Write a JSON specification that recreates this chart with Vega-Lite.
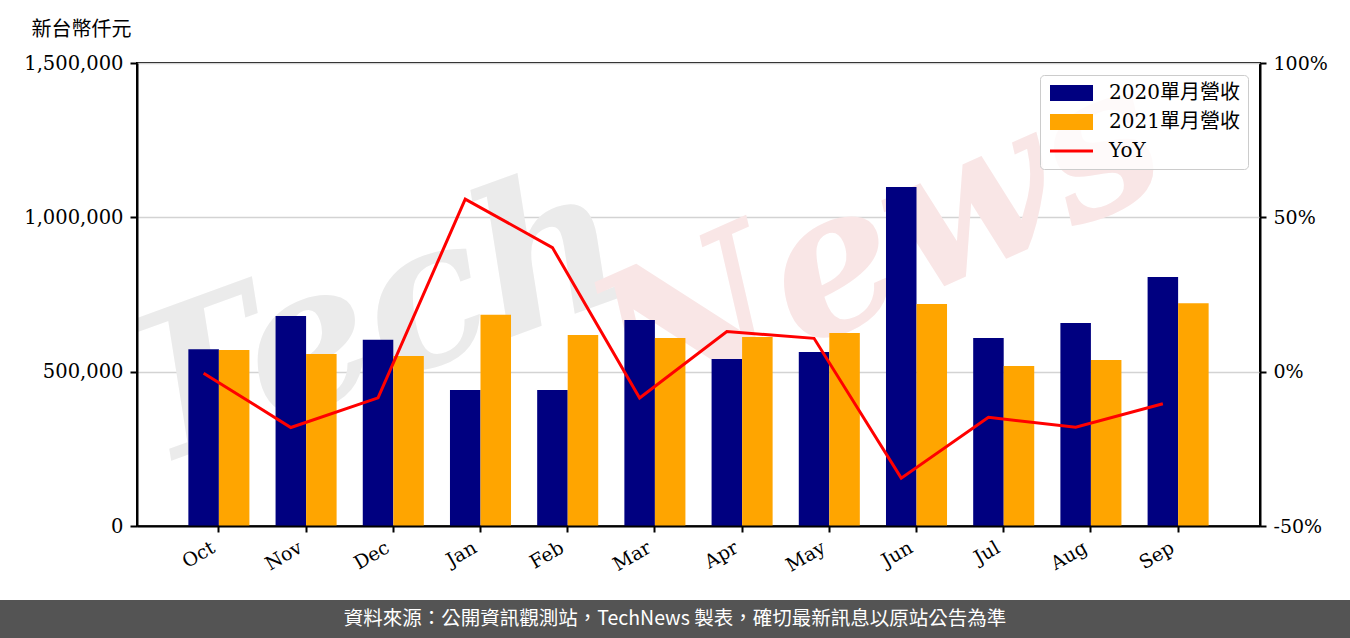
{
  "$schema": "https://vega.github.io/schema/vega-lite/v6.json",
  "background": "white",
  "padding": {"left": 0, "top": 18, "right": 0, "bottom": 0},
  "spacing": 537,
  "bounds": "flush",
  "resolve": {"scale": {"color": "independent"}, "legend": {"color": "independent"}},
  "config": {
    "font": "DejaVu Serif, Noto Sans CJK TC",
    "view": {"stroke": "black", "strokeWidth": 2}
  },
  "datasets": {
    "revenue": [
      {"month": "Oct", "series": "2020單月營收", "revenue": 573000},
      {"month": "Oct", "series": "2021單月營收", "revenue": 570000},
      {"month": "Nov", "series": "2020單月營收", "revenue": 680000},
      {"month": "Nov", "series": "2021單月營收", "revenue": 557000},
      {"month": "Dec", "series": "2020單月營收", "revenue": 603000},
      {"month": "Dec", "series": "2021單月營收", "revenue": 551000},
      {"month": "Jan", "series": "2020單月營收", "revenue": 441000},
      {"month": "Jan", "series": "2021單月營收", "revenue": 684000},
      {"month": "Feb", "series": "2020單月營收", "revenue": 441000},
      {"month": "Feb", "series": "2021單月營收", "revenue": 619000},
      {"month": "Mar", "series": "2020單月營收", "revenue": 667000},
      {"month": "Mar", "series": "2021單月營收", "revenue": 609000},
      {"month": "Apr", "series": "2020單月營收", "revenue": 541000},
      {"month": "Apr", "series": "2021單月營收", "revenue": 612000},
      {"month": "May", "series": "2020單月營收", "revenue": 564000},
      {"month": "May", "series": "2021單月營收", "revenue": 625000},
      {"month": "Jun", "series": "2020單月營收", "revenue": 1098000},
      {"month": "Jun", "series": "2021單月營收", "revenue": 719000},
      {"month": "Jul", "series": "2020單月營收", "revenue": 609000},
      {"month": "Jul", "series": "2021單月營收", "revenue": 518000},
      {"month": "Aug", "series": "2020單月營收", "revenue": 658000},
      {"month": "Aug", "series": "2021單月營收", "revenue": 538000},
      {"month": "Sep", "series": "2020單月營收", "revenue": 807000},
      {"month": "Sep", "series": "2021單月營收", "revenue": 722000}
    ],
    "yoy": [
      {"month": "Oct", "yoy": -0.5},
      {"month": "Nov", "yoy": -18.1},
      {"month": "Dec", "yoy": -8.5},
      {"month": "Jan", "yoy": 55.9},
      {"month": "Feb", "yoy": 40.2},
      {"month": "Mar", "yoy": -8.5},
      {"month": "Apr", "yoy": 13.0},
      {"month": "May", "yoy": 10.8},
      {"month": "Jun", "yoy": -34.5},
      {"month": "Jul", "yoy": -14.8},
      {"month": "Aug", "yoy": -18.0},
      {"month": "Sep", "yoy": -10.4}
    ]
  },
  "vconcat": [
    {
      "hconcat": [
        {
          "width": 137,
          "height": 463,
          "view": {"stroke": null},
          "data": {"values": []},
          "mark": {"type": "point", "opacity": 0}
        },
        {
          "width": 1123,
          "height": 463,
          "layer": [
            {
              "data": {"values": [{"word": "Tech", "month": "Dec", "pos": 680000}]},
              "mark": {"type": "text", "clip": true, "fontSize": 200, "font": "DejaVu Serif", "fontStyle": "italic", "fontWeight": "bold", "angle": -20, "color": "#ebebeb", "dx": -20},
              "encoding": {
                "x": {"field": "month", "type": "nominal", "sort": ["Oct", "Nov", "Dec", "Jan", "Feb", "Mar", "Apr", "May", "Jun", "Jul", "Aug", "Sep"]},
                "y": {"field": "pos", "type": "quantitative", "scale": {"domain": [0, 1500000]}, "axis": null},
                "text": {"field": "word"}
              }
            },
            {
              "data": {"values": [{"word": "News", "month": "Jun", "pos": 950000}]},
              "mark": {"type": "text", "clip": true, "fontSize": 200, "font": "DejaVu Serif", "fontStyle": "italic", "fontWeight": "bold", "angle": -24, "color": "#f9e6e6", "dx": -40},
              "encoding": {
                "x": {"field": "month", "type": "nominal", "sort": ["Oct", "Nov", "Dec", "Jan", "Feb", "Mar", "Apr", "May", "Jun", "Jul", "Aug", "Sep"]},
                "y": {"field": "pos", "type": "quantitative", "scale": {"domain": [0, 1500000]}, "axis": null},
                "text": {"field": "word"}
              }
            },
            {
              "data": {"name": "revenue"},
              "mark": {"type": "bar"},
              "encoding": {
                "x": {
                  "field": "month", "type": "nominal",
                  "sort": ["Oct", "Nov", "Dec", "Jan", "Feb", "Mar", "Apr", "May", "Jun", "Jul", "Aug", "Sep"],
                  "scale": {"domain": ["Oct", "Nov", "Dec", "Jan", "Feb", "Mar", "Apr", "May", "Jun", "Jul", "Aug", "Sep"], "paddingInner": 0.3, "paddingOuter": 0.589},
                  "axis": {
                    "title": null, "labelAngle": -30, "labelAlign": "right", "labelBaseline": "top",
                    "labelFontSize": 19, "labelColor": "black", "labelPadding": 6, "labelOffset": -10,
                    "tickSize": 6, "tickWidth": 2, "tickColor": "black",
                    "domainColor": "black", "domainWidth": 2, "zindex": 1
                  }
                },
                "xOffset": {"field": "series", "type": "nominal", "sort": ["2020單月營收", "2021單月營收"]},
                "y": {
                  "field": "revenue", "type": "quantitative",
                  "scale": {"domain": [0, 1500000]},
                  "axis": {
                    "values": [0, 500000, 1000000, 1500000], "labelExpr": "format(datum.value, ',')",
                    "title": "新台幣仟元", "titleAngle": 0, "titleX": -106, "titleY": -34,
                    "titleAlign": "left", "titleBaseline": "middle", "titleFontSize": 20,
                    "titleFontWeight": "normal", "titleColor": "black", "titleFont": "Noto Sans CJK TC",
                    "labelFontSize": 19.5, "labelColor": "black", "labelPadding": 7,
                    "tickSize": 7, "tickWidth": 2, "tickColor": "black",
                    "domainColor": "black", "domainWidth": 2,
                    "grid": false, "zindex": 1
                  }
                },
                "color": {
                  "field": "series", "type": "nominal",
                  "scale": {"domain": ["2020單月營收", "2021單月營收", "YoY"], "range": ["#000080", "#ffa500", "#ff0000"]},
                  "legend": {
                    "title": null, "orient": "top-right", "offset": 12, "padding": 8,
                    "labelFontSize": 20, "labelColor": "black", "labelFont": "DejaVu Serif, Noto Sans CJK TC",
                    "symbolSize": 256, "labelOffset": 41, "rowPadding": 9,
                    "fillColor": "rgba(255,255,255,0.8)", "strokeColor": "#cccccc", "cornerRadius": 4,
                    "symbolStrokeWidth": 0,
                    "encode": {
                      "symbols": {
                        "update": {
                          "shape": {"signal": "datum.value === 'YoY' ? 'M-1,-0.19H4.375V0.19H-1Z' : 'M-1,-1H4.375V1H-1Z'"},
                          "fill": {"signal": "scale('color', datum.value)"},
                          "stroke": {"value": "transparent"},
                          "opacity": {"value": 1},
                          "fillOpacity": {"value": 1}
                        }
                      }
                    }
                  }
                }
              }
            },
            {
              "data": {"name": "yoy"},
              "mark": {"type": "line", "strokeWidth": 3},
              "encoding": {
                "x": {"field": "month", "type": "nominal", "sort": ["Oct", "Nov", "Dec", "Jan", "Feb", "Mar", "Apr", "May", "Jun", "Jul", "Aug", "Sep"], "bandPosition": 0.25},
                "y": {
                  "field": "yoy", "type": "quantitative",
                  "scale": {"domain": [-50, 100]},
                  "axis": {
                    "orient": "right", "values": [-50, 0, 50, 100], "labelExpr": "datum.value + '%'",
                    "title": null,
                    "labelFontSize": 19, "labelColor": "black", "labelPadding": 7,
                    "tickSize": 6, "tickWidth": 2, "tickColor": "black",
                    "domainColor": "black", "domainWidth": 2,
                    "grid": true, "gridColor": "#d3d3d3", "gridWidth": 1.5, "zindex": 0
                  }
                },
                "color": {"datum": "YoY"}
              }
            }
          ],
          "resolve": {"scale": {"y": "independent"}}
        }
      ],
      "spacing": 0,
      "bounds": "flush",
      "resolve": {"scale": {"color": "independent"}, "legend": {"color": "independent"}}
    },
    {
      "width": 1350,
      "height": 38,
      "view": {"fill": "#545454", "stroke": null},
      "data": {"values": [{"note": "資料來源：公開資訊觀測站，TechNews 製表，確切最新訊息以原站公告為準"}]},
      "mark": {"type": "text", "color": "white", "fontSize": 19.5, "font": "Noto Sans CJK TC"},
      "encoding": {
        "x": {"field": "note", "type": "nominal", "axis": null},
        "text": {"field": "note"}
      }
    }
  ]
}
